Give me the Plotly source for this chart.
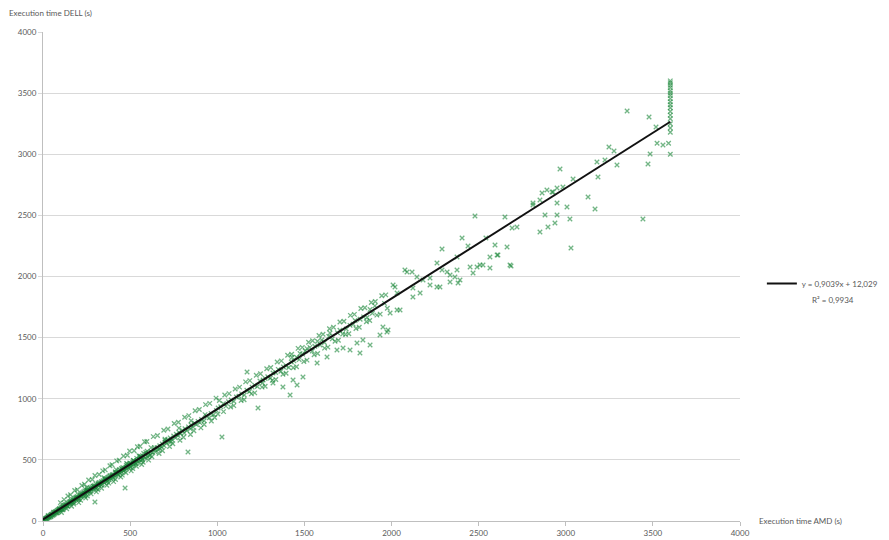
import plotly.graph_objects as go

# ---- data (seconds) ----
amd_low = [5, 8, 12, 15, 18, 22, 25, 28, 30, 33, 36, 40, 42, 45, 48, 50, 53, 56, 60, 62, 65, 68, 70, 73, 76, 80, 82, 85, 88, 90,
           93, 96, 100, 103, 106, 110, 113, 116, 120, 123, 126, 130, 133, 137, 140, 143, 147, 150, 153, 157, 160, 163, 167, 170,
           173, 177, 180, 184, 187, 190, 194, 197, 200, 204, 208, 212, 215, 218, 222, 226, 230, 233, 237, 240, 244, 248, 252,
           256, 260, 264, 268, 272, 276, 280, 284, 288, 292, 296, 300, 305, 310, 315, 320, 325, 330, 335, 340, 345, 350, 355,
           360, 365, 370, 375, 380, 385, 390, 395, 400, 405, 410, 415, 420, 425, 430, 435, 440, 445, 450, 455, 460, 465, 470,
           475, 480, 485, 490, 495, 500, 505, 510, 515, 520, 525, 530, 540, 545, 550, 560, 565, 570, 580, 585, 590, 600, 605,
           615, 620, 630, 640, 645, 655, 660, 670, 680, 685, 695, 700, 710, 715, 725, 730, 740, 750, 760, 765, 775, 780, 790,
           800, 810, 815, 825, 835, 845, 850, 860, 870, 880, 890, 900, 910, 925, 940, 955, 965, 980, 995,
           10, 20, 35, 55, 75, 95, 115, 135, 155, 175, 195, 215, 235, 255, 275, 295, 318, 338, 358, 378, 398, 418, 438, 458,
           478, 498, 518, 538, 558, 578, 598, 250, 350, 420, 480, 550, 620, 700, 780, 850, 930,
           471, 298, 832, 1027, 1234]
dell_low = [8, 15, 14, 20, 22, 25, 30, 24, 35, 38, 30, 42, 48, 40, 52, 55, 45, 58, 62, 50, 70, 60, 75, 68, 80, 72, 85, 90, 78, 95,
            88, 100, 92, 108, 98, 115, 105, 120, 110, 128, 118, 135, 125, 140, 128, 148, 135, 155, 142, 160, 150, 168, 155, 175,
            160, 180, 168, 188, 175, 195, 180, 200, 188, 210, 190, 215, 200, 222, 205, 230, 212, 238, 218, 245, 225, 250, 232,
            258, 240, 265, 245, 270, 252, 278, 258, 285, 265, 290, 272, 300, 278, 305, 290, 315, 298, 320, 305, 330, 315, 340,
            322, 345, 335, 355, 340, 365, 350, 372, 360, 380, 368, 390, 375, 398, 385, 405, 392, 415, 400, 425, 410, 432, 420,
            440, 428, 450, 438, 460, 445, 470, 455, 478, 462, 485, 470, 495, 480, 505, 495, 520, 505, 530, 515, 545, 525, 555,
            540, 565, 560, 585, 565, 600, 585, 615, 605, 630, 615, 645, 640, 665, 650, 680, 665, 695, 680, 710, 700, 725, 715,
            740, 720, 755, 740, 770, 755, 785, 770, 800, 790, 815, 805, 830, 820, 855, 845, 880, 870, 905,
            5, 18, 33, 50, 72, 90, 112, 130, 148, 170, 190, 208, 228, 248, 265, 282, 300, 322, 340, 362, 378, 398, 418, 438,
            455, 475, 495, 512, 530, 552, 570, 275, 355, 420, 470, 535, 600, 670, 760, 820, 870,
            270, 155, 564, 687, 924]

# extra points in the darkest part of the band (below ~750 s)
amd_low_core = [30, 45, 60, 80, 95, 110, 125, 140, 160, 175, 190, 205, 225, 240, 255, 270, 290, 305, 320, 335,
                355, 370, 385, 400, 415, 430, 450, 465, 485, 500, 520, 535, 555, 570, 590, 610, 640, 670, 700, 735]
dell_low_core = [45, 35, 72, 65, 100, 92, 130, 120, 160, 150, 185, 178, 220, 205, 250, 240, 282, 268, 312, 295,
                 345, 325, 372, 352, 402, 378, 430, 410, 465, 440, 495, 470, 525, 500, 560, 535, 600, 590, 660, 650]

# wider spread of the dense band below 1000 s
amd_low_band = [100, 106, 121, 115, 143, 136, 158, 164, 182, 176, 197, 205, 223, 216, 238, 245, 262, 255, 283, 276,
                298, 306, 322, 315, 343, 336, 357, 366, 384, 377, 396, 405, 423, 416, 437, 446, 462, 455, 484, 476,
                497, 506, 523, 515, 542, 536, 557, 566, 583, 575, 596, 606, 633, 625, 657, 666, 693, 686, 717, 726,
                753, 745, 777, 786, 813, 806, 837, 846, 873, 866, 897, 906, 933, 925, 957, 966, 993, 985]
dell_low_band = [150, 70, 175, 92, 205, 100, 215, 120, 250, 138, 255, 150, 290, 170, 300, 188, 335, 205, 340, 222,
                 372, 238, 380, 255, 410, 268, 418, 292, 452, 310, 460, 322, 492, 340, 498, 360, 532, 375, 538, 395,
                 572, 410, 575, 430, 608, 448, 612, 462, 648, 480, 650, 498, 690, 525, 700, 552, 742, 575, 752, 610,
                 798, 632, 808, 660, 848, 685, 862, 708, 902, 738, 912, 762, 952, 790, 962, 818, 1005, 846]

amd_mid = [1005, 1020, 1035, 1050, 1065, 1080, 1095, 1110, 1125, 1140, 1155, 1170, 1171, 1185, 1200, 1215, 1230, 1245, 1260,
           1263, 1275, 1290, 1305, 1320, 1320, 1335, 1350, 1365, 1377, 1380, 1395, 1410, 1418, 1425, 1429, 1435, 1440, 1458,
           1455, 1470, 1475, 1490, 1492, 1505, 1515, 1532, 1545, 1560, 1573, 1575, 1590, 1600, 1615, 1630, 1640, 1647, 1660,
           1687, 1690, 1704, 1720, 1722, 1740, 1762, 1762, 1780, 1791, 1802, 1819, 1820, 1836, 1840, 1860, 1877, 1877, 1890,
           1905, 1934, 1951, 1960, 1974, 1980, 1992, 2009]
dell_mid = [925, 935, 960, 940, 975, 990, 980, 1015, 1020, 1040, 1030, 1070, 1219, 1060, 1095, 1110, 1100, 1145, 1130,
            1153, 1165, 1180, 1170, 1210, 1129, 1215, 1240, 1225, 1096, 1260, 1270, 1255, 1031, 1300, 1340, 1153, 1310, 1112,
            1340, 1320, 1370, 1365, 1178, 1390, 1410, 1420, 1390, 1430, 1292, 1470, 1440, 1480, 1460, 1342, 1510, 1538, 1490,
            1399, 1540, 1560, 1530, 1415, 1570, 1399, 1600, 1610, 1640, 1456, 1374, 1650, 1481, 1670, 1665, 1730, 1440, 1700,
            1760, 1521, 1587, 1780, 1546, 1562, 1701, 1931]

amd_mid_band = [1012, 1004, 1043, 1036, 1068, 1077, 1103, 1095, 1128, 1137, 1163, 1154, 1187, 1196, 1224, 1215,
                1248, 1257, 1284, 1275, 1307, 1316, 1344, 1336, 1368, 1377, 1404, 1395, 1427, 1436, 1464, 1455,
                1488, 1497, 1524, 1515, 1547, 1556, 1584, 1576, 1607, 1616, 1644, 1635, 1667, 1676, 1704, 1695,
                1727, 1736, 1764, 1755, 1787, 1796, 1824, 1815, 1847, 1856, 1884, 1875, 1907, 1916, 1944, 1935,
                1967, 1976]
dell_mid_band = [985, 875, 1030, 895, 1042, 932, 1080, 944, 1095, 985, 1138, 992, 1148, 1040, 1192, 1048,
                 1205, 1095, 1246, 1102, 1255, 1150, 1300, 1158, 1310, 1200, 1356, 1208, 1364, 1254, 1412, 1262,
                 1420, 1305, 1462, 1316, 1474, 1360, 1518, 1370, 1528, 1414, 1572, 1422, 1585, 1470, 1628, 1478,
                 1634, 1525, 1682, 1532, 1690, 1575, 1738, 1585, 1744, 1630, 1788, 1640, 1795, 1684, 1842, 1692,
                 1850, 1740]

amd_high = [2020, 2032, 2032, 2049, 2077, 2089, 2118, 2123, 2123, 2146, 2164, 2181, 2221, 2221, 2261, 2261, 2278, 2290, 2290,
            2319, 2336, 2336, 2364, 2376, 2376, 2382, 2393, 2405, 2439, 2451, 2468, 2479, 2491, 2508, 2525, 2542, 2565, 2565,
            2594, 2606, 2611, 2651, 2663, 2680, 2686, 2692, 2720, 2812, 2812, 2852, 2852, 2864, 2881, 2892, 2898, 2921, 2927,
            2938, 2950, 2950, 2950, 2967, 2984, 3007, 3024, 3030, 3042, 3128, 3168, 3179, 3185, 3225, 3248, 3277, 3294, 3352,
            3443, 3472, 3478, 3484, 3518, 3524, 3558, 3590]
dell_high = [1914, 1726, 1865, 1726, 2053, 2037, 2037, 1832, 1906, 1996, 1865, 1971, 1988, 1931, 2110, 1914, 1914, 2225, 2053,
             2037, 2012, 1955, 1996, 2160, 2053, 1947, 1971, 2315, 2250, 2078, 2029, 2495, 2078, 2094, 2094, 2315, 2070, 2160,
             2258, 2176, 2176, 2487, 2241, 2094, 2086, 2397, 2405, 2585, 2601, 2626, 2364, 2683, 2503, 2708, 2405, 2691, 2691,
             2438, 2724, 2601, 2503, 2879, 2732, 2569, 2470, 2233, 2798, 2650, 2552, 2937, 2814, 2953, 3059, 3027, 2912, 3354,
             2470, 2920, 3305, 3002, 3223, 3090, 3075, 3090]

# runs that hit the 3600 s limit on AMD
amd_timeout = [3600] * 18
dell_timeout = [3600, 3585, 3565, 3545, 3520, 3500, 3480, 3455, 3430, 3405, 3380, 3350, 3320, 3290, 3250, 3215, 3180, 3000]

slope, intercept, r2 = 0.9039, 12.029, 0.9934
fit_x = [0, 3600]

x_ticks = [0, 500, 1000, 1500, 2000, 2500, 3000, 3500, 4000]
y_ticks = [0, 500, 1000, 1500, 2000, 2500, 3000, 3500, 4000]

amd_all = amd_low + amd_low_core + amd_low_band + amd_mid + amd_mid_band + amd_high + amd_timeout
dell_all = dell_low + dell_low_core + dell_low_band + dell_mid + dell_mid_band + dell_high + dell_timeout

FONT = "Lato"
TXT = "#595959"

fig = go.Figure()
fig.add_trace(go.Scatter(
    x=amd_all, y=dell_all, mode="markers", showlegend=False,
    marker=dict(symbol="x-thin", size=4.5,
                line=dict(width=1.3, color="rgba(28,135,58,0.62)")),
))
fig.add_trace(go.Scatter(
    x=fit_x, y=[slope * v + intercept for v in fit_x], mode="lines",
    name="y = 0,9039x + 12,029",
    line=dict(color="#111111", width=2),
))

fig.update_layout(
    width=889, height=540,
    margin=dict(l=43, r=149, t=32, b=19, autoexpand=False),
    paper_bgcolor="white", plot_bgcolor="white",
    font=dict(family=FONT, size=8, color=TXT),
    legend=dict(xref="container", yref="container", x=0.857, y=0.475,
                xanchor="left", yanchor="middle",
                font=dict(size=8, color=TXT), bgcolor="rgba(0,0,0,0)",
                itemwidth=30),
    xaxis=dict(range=[0, 4000], tickvals=x_ticks, showgrid=False,
               showline=True, linecolor="#bfbfbf", linewidth=1,
               ticks="outside", ticklen=4, tickcolor="#bfbfbf",
               zeroline=False, tickfont=dict(size=8, color=TXT)),
    yaxis=dict(range=[0, 4000], tickvals=y_ticks, showgrid=True,
               gridcolor="#d9d9d9", gridwidth=1,
               showline=True, linecolor="#bfbfbf", linewidth=1,
               ticks="outside", ticklen=4, tickcolor="#d9d9d9",
               zeroline=False, tickfont=dict(size=8, color=TXT)),
    annotations=[
        dict(text="Execution time DELL (s)", xref="paper", yref="paper",
             x=-0.052, y=1.025, xanchor="left", yanchor="bottom",
             showarrow=False, font=dict(size=8, color=TXT)),
        dict(text="Execution time AMD (s)", xref="paper", yref="paper",
             x=1.025, y=0.0, xanchor="left", yanchor="middle",
             showarrow=False, font=dict(size=8, color=TXT)),
        dict(text="R² = 0,9934", xref="paper", yref="paper",
             x=1.1, y=0.452, xanchor="left", yanchor="middle",
             showarrow=False, font=dict(size=8, color=TXT)),
    ],
)

fig.write_html("out.html")
